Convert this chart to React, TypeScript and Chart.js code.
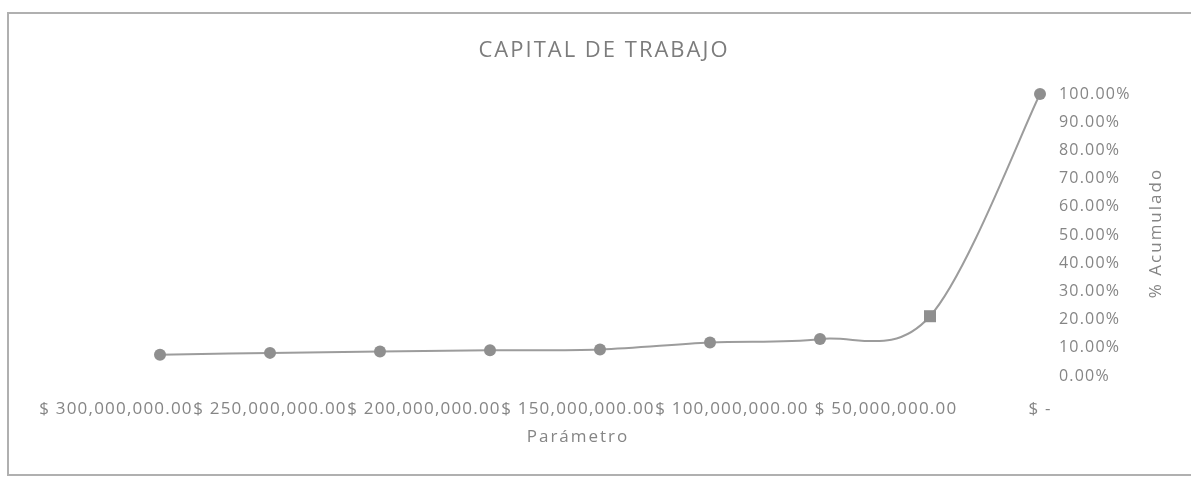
import React, { useEffect, useRef } from "react";
import { Chart, registerables } from "chart.js";

Chart.register(...registerables);

// ---- data ----
const parametro = [285714286, 250000000, 214285714, 178571429, 142857143, 107142857, 71428571, 35714286, 0];
const acumulado = [7.5, 8.2, 8.7, 9.1, 9.4, 11.9, 13.1, 21.2, 100];
const markerStyles = ["circle", "circle", "circle", "circle", "circle", "circle", "circle", "rect", "circle"];
const xTicksMin = 0;
const xTicksMax = 300000000;
const xTicksStep = 50000000;
const yTicksMin = 0;
const yTicksMax = 100;
const yTicksStep = 10;
const chartTitle = "CAPITAL DE TRABAJO";
const xAxisTitle = "Parámetro";
const yAxisTitle = "% Acumulado";

const FONT = "'Open Sans', sans-serif";
const TEXT = "#858585";

function fmtMoney(v: number): string {
  if (v === 0) return "$ -";
  return "$ " + v.toLocaleString("en-US", { minimumFractionDigits: 2, maximumFractionDigits: 2 });
}

// Excel-like smoothing: uniform Catmull-Rom control points on the library's own point elements
const smoothPlugin = {
  id: "excelSmooth",
  beforeDatasetsDraw(chart: any) {
    const meta = chart.getDatasetMeta(0);
    const line = meta.dataset;
    const pts = meta.data;
    if (!line || !pts || !pts.length) return;
    for (let i = 0; i < pts.length; i++) {
      const p = pts[i];
      const prev = pts[i - 1] || p;
      const next = pts[i + 1] || p;
      const tx = (next.x - prev.x) / 6;
      const ty = (next.y - prev.y) / 6;
      p.cp1x = p.x - tx;
      p.cp1y = p.y - ty;
      p.cp2x = p.x + tx;
      p.cp2y = p.y + ty;
    }
    line._pointsUpdated = true;
    line._path = undefined;
  },
};

const decorPlugin = {
  id: "decor",
  beforeDraw(chart: any) {
    (chart.ctx as any).letterSpacing = "1.2px";
  },
  afterDraw(chart: any) {
    const ctx = chart.ctx as any;
    const a = chart.chartArea;
    ctx.save();
    ctx.fillStyle = "#7c7c7c";
    ctx.textAlign = "center";
    ctx.textBaseline = "middle";
    ctx.letterSpacing = "2px";
    ctx.font = `22px ${FONT}`;
    ctx.fillText(chartTitle, 604, 51);
    ctx.fillStyle = TEXT;
    ctx.letterSpacing = "2px";
    ctx.font = `17px ${FONT}`;
    ctx.fillText(xAxisTitle, (a.left + a.right) / 2, 437);
    ctx.translate(1156, (a.top + a.bottom) / 2 - 2);
    ctx.rotate(-Math.PI / 2);
    ctx.fillText(yAxisTitle, 0, 0);
    ctx.restore();

    ctx.save();
    ctx.letterSpacing = "0px";
    ctx.strokeStyle = "#b0b0b0";
    ctx.lineWidth = 2;
    ctx.strokeRect(8, 13, 1200, 462);
    ctx.restore();
  },
};

export default function App() {
  const ref = useRef<HTMLCanvasElement | null>(null);

  useEffect(() => {
    document.body.style.margin = "0";
    const canvas = ref.current;
    if (!canvas) return;
    const points = parametro.map((x, i) => ({ x, y: acumulado[i] }));
    const chart = new Chart(canvas, {
      type: "scatter",
      data: {
        datasets: [
          {
            label: yAxisTitle,
            data: points,
            showLine: true,
            tension: 0.4,
            borderColor: "#9c9c9c",
            borderWidth: 2,
            pointStyle: markerStyles as any,
            pointRadius: markerStyles.map((s) => (s === "rect" ? 8.5 : 6)),
            pointBackgroundColor: "#8f8f8f",
            pointBorderColor: "#8f8f8f",
            pointBorderWidth: 0,
            clip: false as any,
          },
        ],
      },
      options: {
        responsive: false,
        animation: false,
        devicePixelRatio: 1,
        layout: { padding: { left: 116, top: 94, right: 0, bottom: 0 } },
        plugins: {
          legend: { display: false },
          title: { display: false },
          tooltip: { enabled: false },
        },
        scales: {
          x: {
            type: "linear",
            position: "bottom",
            reverse: true,
            min: xTicksMin,
            max: xTicksMax,
            grid: { display: false, drawTicks: false },
            border: { display: false },
            afterFit: (s: any) => {
              s.height = 105;
            },
            ticks: {
              stepSize: xTicksStep,
              autoSkip: false,
              maxRotation: 0,
              minRotation: 0,
              padding: 23,
              color: TEXT,
              font: { family: FONT, size: 17 },
              callback: (v: any) => fmtMoney(Number(v)),
            },
          },
          y: {
            type: "linear",
            position: "right",
            min: yTicksMin,
            max: yTicksMax,
            grid: { display: false, drawTicks: false },
            border: { display: false },
            afterFit: (s: any) => {
              s.width = 151;
            },
            ticks: {
              stepSize: yTicksStep,
              padding: 19,
              color: TEXT,
              font: { family: FONT, size: 16 },
              callback: (v: any) => Number(v).toFixed(2) + "%",
            },
          },
        },
      },
      plugins: [smoothPlugin, decorPlugin],
    });
    return () => chart.destroy();
  }, []);

  return (
    <div style={{ width: 1191, height: 481, position: "relative", background: "#fff" }}>
      <canvas ref={ref} width={1191} height={481} style={{ display: "block" }} />
    </div>
  );
}
